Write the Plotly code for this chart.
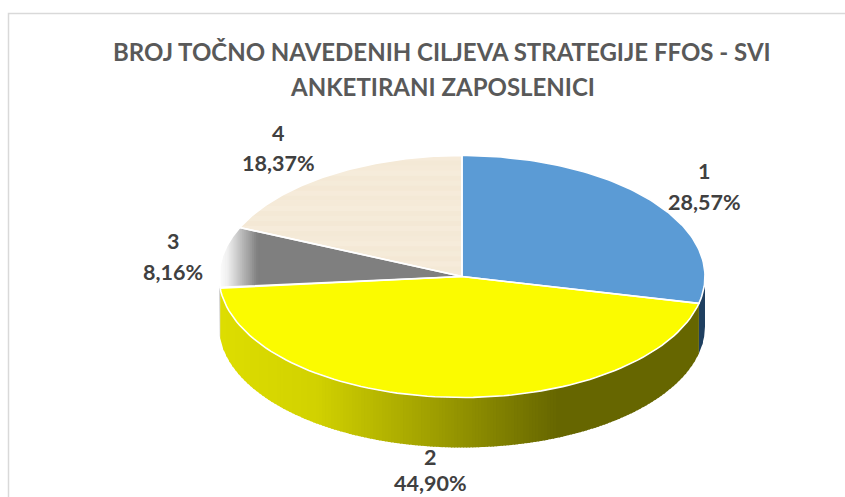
import numpy as np
import plotly.graph_objects as go

categories = ["1", "2", "3", "4"]
values = [28.57, 44.90, 8.16, 18.37]
top_colors = ["#5B9BD5", "#FBFB00", "#7F7F7F", "#F5EAD8"]
title_lines = ["BROJ TOČNO NAVEDENIH CILJEVA STRATEGIJE FFOS - SVI", "ANKETIRANI ZAPOSLENICI"]
beige_bands = ["#F5EAD8", "#F4E9D6", "#F6EBDA", "#F4E8D5", "#F5EBD9", "#F4E9D6", "#F6ECDB"]

W, H = 845, 497
CX, CY, RX, RY, DEPTH = 462, 276.5, 243, 121, 50


def hexrgb(c):
    return np.array([int(c[i:i + 2], 16) for i in (1, 3, 5)], float)


def mix(stops, t):
    ts = [s[0] for s in stops]
    rgb = [np.interp(t, ts, [hexrgb(s[1])[k] for s in stops]) for k in range(3)]
    return "rgb(%d,%d,%d)" % tuple(rgb)


def clip(poly, axis, lo, hi):
    def cut(p, val, keep_ge):
        out = []
        for i in range(len(p)):
            a, b = p[i], p[(i + 1) % len(p)]
            ina = a[axis] >= val if keep_ge else a[axis] <= val
            inb = b[axis] >= val if keep_ge else b[axis] <= val
            if ina:
                out.append(a)
            if ina != inb:
                t = (val - a[axis]) / (b[axis] - a[axis])
                out.append((a[0] + t * (b[0] - a[0]), a[1] + t * (b[1] - a[1])))
        return out
    p = cut(list(poly), lo, True)
    return cut(p, hi, False) if p and hi is not None else p


fig = go.Figure()


def add_poly(pts, color, width=0):
    xs = [p[0] for p in pts] + [pts[0][0]]
    ys = [p[1] for p in pts] + [pts[0][1]]
    fig.add_trace(go.Scatter(x=xs, y=ys, mode="lines", fill="toself", fillcolor=color,
                             line=dict(color=color, width=width),
                             hoverinfo="skip", showlegend=False))


def pt(theta, dz=0.0):
    return (np.sin(theta), np.cos(theta) - dz)


dz = DEPTH / RY
fracs = np.array(values) / sum(values)
edges = np.concatenate([[0], np.cumsum(fracs)]) * 2 * np.pi

side_stops = {
    0: [(-1, "#1F3F60"), (1, "#1F3F60")],
    1: [(-1.0, "#DEDE00"), (-0.6, "#D2D200"), (-0.2, "#A8A800"), (0.40, "#666600"), (1, "#666600")],
    2: [(-1, "#C8C8C8"), (1, "#C8C8C8")],
}

# side walls: front half of the ellipse, shaded in vertical strips
step = 3 / RX
overlap = 1 / RX
for i in (0, 1, 2):
    a = max(edges[i], np.pi / 2)
    b = min(edges[i + 1], 3 * np.pi / 2)
    if b <= a:
        continue
    ts = np.linspace(a, b, 200)
    wall = [pt(t) for t in ts] + [pt(t, dz) for t in ts[::-1]]
    x0 = min(p[0] for p in wall)
    x1 = max(p[0] for p in wall)
    grid = np.arange(x0, x1 + step, step)
    for lo, hi in zip(grid[:-1], grid[1:]):
        part = clip(wall, 0, lo, hi + overlap)
        if len(part) > 2:
            add_poly(part, mix(side_stops[i], (lo + hi) / 2))

# top faces
wedges = []
for i in range(4):
    ts = np.linspace(edges[i], edges[i + 1], 90)
    wedges.append([(0.0, 0.0)] + [pt(t) for t in ts])

add_poly(wedges[0], top_colors[0])
add_poly(wedges[1], top_colors[1])

# slice 3: horizontal fade
gray_stops = [(-1.0, "#FFFFFF"), (-0.965, "#F0F0F0"), (-0.90, "#B5B5B5"), (-0.84, "#7F7F7F"), (0, "#7F7F7F")]
xs3 = [p[0] for p in wedges[2]]
grid = np.arange(min(xs3), -0.82, 0.008)
for lo, hi in zip(grid[:-1], grid[1:]):
    part = clip(wedges[2], 0, lo, hi + 0.003)
    if len(part) > 2:
        add_poly(part, mix(gray_stops, (lo + hi) / 2))
add_poly(clip(wedges[2], 0, grid[-1], 0.01), top_colors[2])

# slice 4: faint paper-like bands
ys4 = [p[1] for p in wedges[3]]
bands = np.linspace(min(ys4), max(ys4), 25)
for k, (lo, hi) in enumerate(zip(bands[:-1], bands[1:])):
    part = clip(wedges[3], 1, lo, hi + 0.006)
    if len(part) > 2:
        add_poly(part, beige_bands[k % len(beige_bands)])

# white separators over the top faces
for i in range(4):
    xs = [p[0] for p in wedges[i]] + [0.0]
    ys = [p[1] for p in wedges[i]] + [0.0]
    fig.add_trace(go.Scatter(x=xs, y=ys, mode="lines", line=dict(color="white", width=1.6),
                             hoverinfo="skip", showlegend=False))

annotations = []


def px_text(text, x, y, size, color):
    annotations.append(dict(text=text, x=x / W, y=1 - y / H, xref="paper", yref="paper",
                            showarrow=False, xanchor="center", yanchor="middle",
                            font=dict(family="Lato", size=size, color=color, weight="bold")))


px_text(title_lines[0], 442, 51, 24, "#595959")
px_text(title_lines[1], 442, 86, 24, "#595959")

label_pos = [(704, 171, 202), (430, 457, 483), (173, 241, 272), (278, 133, 163)]
for cat, v, (x, y1, y2) in zip(categories, values, label_pos):
    px_text(cat, x, y1, 21.5, "#404040")
    px_text(f"{v:.2f}".replace(".", ",") + "%", x, y2, 21.5, "#404040")

fig.update_layout(
    width=W, height=H, margin=dict(l=0, r=0, t=0, b=0), autosize=False,
    paper_bgcolor="white", plot_bgcolor="white", showlegend=False,
    xaxis=dict(visible=False, range=[-CX / RX, (W - CX) / RX], fixedrange=True),
    yaxis=dict(visible=False, range=[(CY - H) / RY, CY / RY], fixedrange=True),
    annotations=annotations,
    shapes=[dict(type="rect", xref="paper", yref="paper", x0=8.5 / W, x1=1.2, y0=-0.2, y1=1 - 13.5 / H,
                 line=dict(color="#D9D9D9", width=1.5), fillcolor="rgba(0,0,0,0)", layer="below")],
)

fig.write_html("out.html", config=dict(displayModeBar=False),
               post_script="document.body.style.margin='0';document.body.style.overflow='hidden';")
